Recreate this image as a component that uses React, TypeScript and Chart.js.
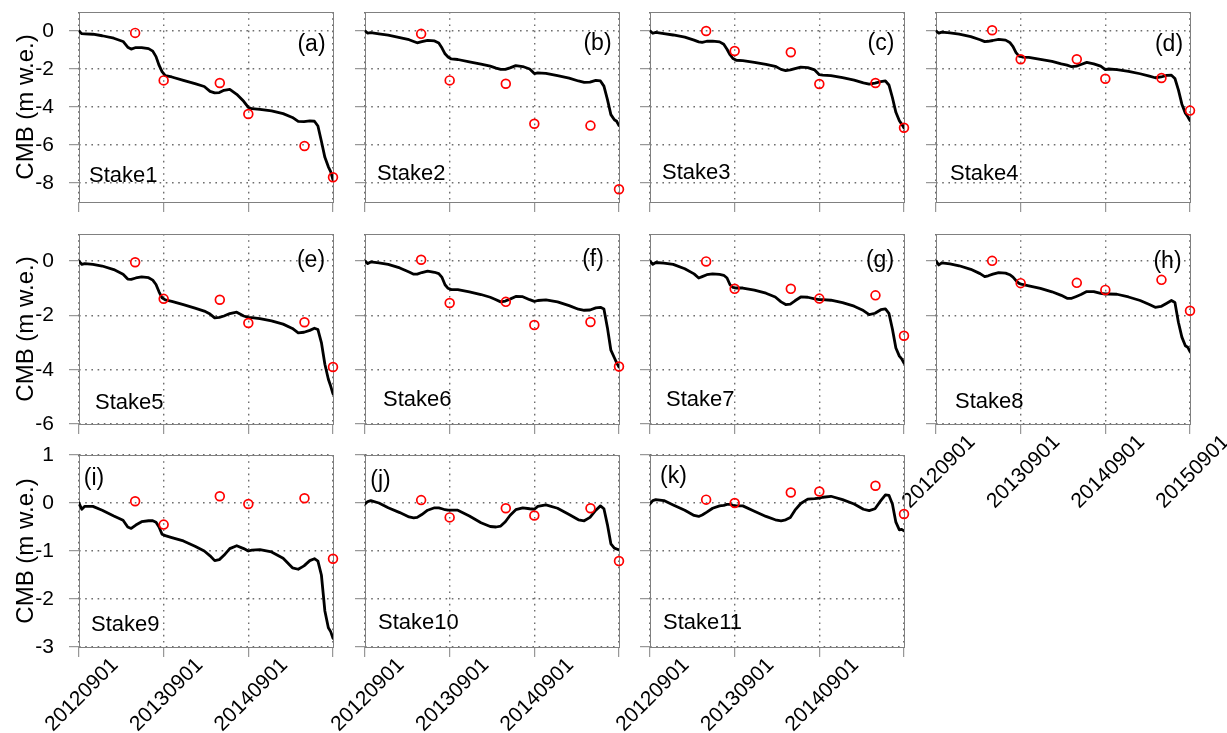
import { useEffect, useRef } from "react";
import { Chart, registerables } from "chart.js";

Chart.register(...registerables);

// Day offsets from 2012-09-01 and their date labels
const xTickDays = [0, 365, 730, 1095];
const xTickLabels = ["20120901", "20130901", "20140901", "20150901"];

// Modelled cumulative mass balance, sampled on these days
const sampleDays = [
  0, 12, 25, 60, 100, 150, 190, 210, 225, 245, 270, 300, 318, 332, 345, 358, 372, 400, 450, 500,
  540, 565, 585, 605, 625, 650, 680, 710, 730, 745, 780, 830, 880, 920, 945, 970, 995, 1015, 1030,
  1045, 1060, 1075, 1085, 1095,
];

// Stake survey days
const obsDays = [242, 365, 607, 730, 972, 1095];

const stake1Model = [
  0, -0.14, -0.15, -0.17, -0.25, -0.38, -0.55, -0.85, -0.95, -0.87, -0.87, -0.93, -1.06, -1.35, -1.8,
  -2.14, -2.35, -2.42, -2.6, -2.77, -2.92, -3.18, -3.26, -3.24, -3.12, -3.07, -3.33, -3.7, -4.02, -4.09,
  -4.12, -4.2, -4.35, -4.55, -4.76, -4.77, -4.73, -4.75, -5.0, -5.8, -6.65, -7.15, -7.4, -7.84,
];
const stake1Obs = [-0.1, -2.6, -2.74, -4.37, -6.05, -7.7];

const stake2Model = [
  0, -0.11, -0.09, -0.15, -0.22, -0.35, -0.46, -0.55, -0.62, -0.56, -0.49, -0.52, -0.63, -0.9, -1.2,
  -1.37, -1.47, -1.5, -1.62, -1.74, -1.85, -1.95, -2.02, -2.02, -1.94, -1.82, -1.87, -2.0, -2.24, -2.2,
  -2.23, -2.35, -2.48, -2.63, -2.7, -2.69, -2.6, -2.63, -2.9, -3.6, -4.4, -4.67, -4.75, -4.98,
];
const stake2Obs = [-0.15, -2.6, -2.78, -4.88, -4.98, -8.33];

const stake3Model = [
  0, -0.12, -0.07, -0.14, -0.21, -0.32, -0.48, -0.57, -0.6, -0.54, -0.53, -0.57, -0.7, -0.96, -1.25,
  -1.45, -1.54, -1.56, -1.65, -1.76, -1.86, -2.02, -2.08, -2.05, -1.98, -1.9, -1.93, -2.05, -2.3, -2.32,
  -2.35, -2.46, -2.59, -2.73, -2.79, -2.74, -2.67, -2.63, -2.84, -3.5, -4.28, -4.72, -4.9, -5.1,
];
const stake3Obs = [0.0, -1.05, -1.12, -2.79, -2.74, -5.09];

const stake4Model = [
  0, -0.11, -0.06, -0.1, -0.17, -0.3, -0.46, -0.56, -0.54, -0.5, -0.44, -0.48, -0.6, -0.82, -1.14,
  -1.32, -1.37, -1.39, -1.49, -1.6, -1.73, -1.8, -1.88, -1.85, -1.76, -1.65, -1.73, -1.85, -2.03, -2.0,
  -2.03, -2.12, -2.25, -2.38, -2.46, -2.42, -2.34, -2.33, -2.5, -3.1, -3.85, -4.33, -4.5, -4.72,
];
const stake4Obs = [0.04, -1.49, -1.49, -2.51, -2.47, -4.19];

const stake5Model = [
  0, -0.12, -0.09, -0.12, -0.18, -0.31, -0.48, -0.66, -0.67, -0.62, -0.58, -0.61, -0.7, -0.86, -1.13,
  -1.35, -1.43, -1.48, -1.6, -1.73, -1.84, -1.95, -2.09, -2.07, -2.02, -1.93, -1.88, -2.02, -2.07, -2.08,
  -2.12, -2.2, -2.32, -2.48, -2.64, -2.62, -2.55, -2.47, -2.52, -3.0, -3.8, -4.35, -4.6, -4.89,
];
const stake5Obs = [-0.04, -1.39, -1.42, -2.28, -2.25, -3.9];

const stake6Model = [
  0, -0.09, -0.03, -0.06, -0.12, -0.25, -0.4, -0.48, -0.48, -0.42, -0.37, -0.41, -0.46, -0.6, -0.87,
  -1.0, -1.05, -1.05, -1.13, -1.23, -1.33, -1.42, -1.5, -1.47, -1.4, -1.3, -1.31, -1.42, -1.48, -1.45,
  -1.43, -1.5, -1.64, -1.77, -1.81, -1.8, -1.72, -1.7, -1.76, -2.45, -3.28, -3.56, -3.75, -3.9,
];
const stake6Obs = [0.05, -1.54, -1.5, -2.35, -2.24, -3.88];

const stake7Model = [
  0, -0.12, -0.05, -0.07, -0.12, -0.28, -0.47, -0.62, -0.57, -0.5, -0.47, -0.49, -0.52, -0.62, -0.87,
  -0.97, -0.99, -0.99, -1.07, -1.18, -1.32, -1.5, -1.6, -1.58, -1.46, -1.32, -1.33, -1.39, -1.42, -1.42,
  -1.44, -1.53, -1.66, -1.82, -1.97, -1.92, -1.79, -1.76, -1.92, -2.5, -3.2, -3.5, -3.6, -3.76,
];
const stake7Obs = [-0.01, -1.02, -1.02, -1.38, -1.26, -2.75];

const stake8Model = [
  0, -0.14, -0.06, -0.1, -0.17, -0.3, -0.46, -0.57, -0.54, -0.48, -0.42, -0.44, -0.5, -0.59, -0.72,
  -0.82, -0.86, -0.91, -1.0, -1.13, -1.26, -1.37, -1.37, -1.3, -1.23, -1.12, -1.12, -1.19, -1.21, -1.21,
  -1.22, -1.32, -1.45, -1.6, -1.7, -1.67, -1.55, -1.45, -1.52, -2.25, -2.8, -3.12, -3.17, -3.33,
];
const stake8Obs = [0.01, -0.81, -0.8, -1.06, -0.69, -1.83];

const stake9Model = [
  0, -0.13, -0.07, -0.07, -0.15, -0.27, -0.36, -0.5, -0.53, -0.46, -0.39, -0.37, -0.37, -0.4, -0.5,
  -0.65, -0.68, -0.72, -0.79, -0.9, -1.0, -1.1, -1.2, -1.18, -1.09, -0.95, -0.89, -0.95, -1.0, -0.98,
  -0.97, -1.02, -1.15, -1.35, -1.38, -1.31, -1.2, -1.16, -1.21, -1.5, -2.25, -2.6, -2.68, -2.82,
];
const stake9Obs = [0.035, -0.45, 0.14, -0.02, 0.1, -1.16];

const stake10Model = [
  -0.02, 0.03, 0.05, 0.0, -0.1, -0.2, -0.29, -0.31, -0.3, -0.24, -0.15, -0.1, -0.1, -0.12, -0.14,
  -0.15, -0.15, -0.15, -0.27, -0.41, -0.49, -0.5, -0.48, -0.39, -0.26, -0.14, -0.1, -0.12, -0.13, -0.07,
  -0.04, -0.11, -0.24, -0.35, -0.37, -0.3, -0.15, -0.06, -0.12, -0.45, -0.85, -0.94, -0.96, -0.98,
];
const stake10Obs = [0.06, -0.3, -0.11, -0.26, -0.11, -1.21];

const stake11Model = [
  -0.02, 0.05, 0.07, 0.05, -0.04, -0.15, -0.26, -0.28, -0.25, -0.19, -0.11, -0.06, -0.05, -0.03, -0.03,
  -0.05, -0.06, -0.06, -0.17, -0.28, -0.35, -0.37, -0.35, -0.3, -0.15, -0.01, 0.08, 0.09, 0.1, 0.12,
  0.14, 0.07, -0.02, -0.13, -0.16, -0.12, 0.05, 0.17, 0.16, -0.02, -0.4, -0.56, -0.55, -0.58,
];
const stake11Obs = [0.07, 0.0, 0.22, 0.24, 0.36, -0.23];

// Y tick values per panel row
const row1Ticks = [0, -2, -4, -6, -8];
const row2Ticks = [0, -2, -4, -6];
const row3Ticks = [1, 0, -1, -2, -3];

const yTitle = "CMB (m w.e.)";

const FONT = '"Liberation Sans", Arial, Helvetica, sans-serif';

// Page layout of the plot frames
const COL_LEFT = [79, 365, 650, 936];
const PLOT_W = 254;
const ROWS = [
  { top: 12, height: 190, min: -9, max: 1, ticks: row1Ticks },
  { top: 234, height: 190, min: -6, max: 1, ticks: row2Ticks },
  { top: 455, height: 192, min: -3, max: 1, ticks: row3Ticks },
];

type PanelDef = {
  name: string;
  tag: string;
  model: number[];
  obs: number[];
  row: number;
  col: number;
  xLabelCount: number; // how many date labels are written under the panel
  tagX: number; // centre of the tag, from the frame's left edge
  tagY: number; // centre of the tag, from the frame's top edge
  nameX: number; // left of the stake name, from the frame's left edge
  nameY: number; // centre of the stake name, above the frame's bottom edge
};

const panels: PanelDef[] = [
  { name: "Stake1", tag: "(a)", model: stake1Model, obs: stake1Obs, row: 0, col: 0, xLabelCount: 0, tagX: 232.5, tagY: 33, nameX: 10, nameY: 26 },
  { name: "Stake2", tag: "(b)", model: stake2Model, obs: stake2Obs, row: 0, col: 1, xLabelCount: 0, tagX: 232.5, tagY: 32, nameX: 12, nameY: 28.5 },
  { name: "Stake3", tag: "(c)", model: stake3Model, obs: stake3Obs, row: 0, col: 2, xLabelCount: 0, tagX: 231, tagY: 32, nameX: 12, nameY: 29 },
  { name: "Stake4", tag: "(d)", model: stake4Model, obs: stake4Obs, row: 0, col: 3, xLabelCount: 0, tagX: 233, tagY: 33, nameX: 14, nameY: 28 },
  { name: "Stake5", tag: "(e)", model: stake5Model, obs: stake5Obs, row: 1, col: 0, xLabelCount: 0, tagX: 232, tagY: 27, nameX: 16, nameY: 21 },
  { name: "Stake6", tag: "(f)", model: stake6Model, obs: stake6Obs, row: 1, col: 1, xLabelCount: 0, tagX: 228, tagY: 26, nameX: 18, nameY: 24 },
  { name: "Stake7", tag: "(g)", model: stake7Model, obs: stake7Obs, row: 1, col: 2, xLabelCount: 0, tagX: 230, tagY: 27, nameX: 16, nameY: 24 },
  { name: "Stake8", tag: "(h)", model: stake8Model, obs: stake8Obs, row: 1, col: 3, xLabelCount: 4, tagX: 231.5, tagY: 28, nameX: 19, nameY: 22 },
  { name: "Stake9", tag: "(i)", model: stake9Model, obs: stake9Obs, row: 2, col: 0, xLabelCount: 3, tagX: 15, tagY: 24, nameX: 12, nameY: 22 },
  { name: "Stake10", tag: "(j)", model: stake10Model, obs: stake10Obs, row: 2, col: 1, xLabelCount: 3, tagX: 15.5, tagY: 26, nameX: 13, nameY: 24 },
  { name: "Stake11", tag: "(k)", model: stake11Model, obs: stake11Obs, row: 2, col: 2, xLabelCount: 3, tagX: 23.5, tagY: 22, nameX: 13, nameY: 24 },
];

// Grey box around each plot area
const framePlugin = {
  id: "frame",
  beforeDatasetsDraw(chart: any) {
    const { ctx, chartArea: a } = chart;
    ctx.save();
    ctx.strokeStyle = "#808080";
    ctx.lineWidth = 1;
    ctx.strokeRect(Math.round(a.left) + 0.5, Math.round(a.top) + 0.5, Math.round(a.width), Math.round(a.height));
    ctx.restore();
  },
};

function Panel({ p }: { p: PanelDef }) {
  const ref = useRef<HTMLCanvasElement>(null);
  const row = ROWS[p.row];
  const showY = p.col === 0;
  const showX = p.xLabelCount > 0;
  const padL = showY ? COL_LEFT[0] : 60;
  const padT = 14;
  const padR = 50;
  const padB = showX ? 100 : 16;
  const left = COL_LEFT[p.col] - padL;
  const top = row.top - padT;
  const width = padL + PLOT_W + padR;
  const height = padT + row.height + padB;

  useEffect(() => {
    const canvas = ref.current;
    if (!canvas) return;

    const labelPlugin = {
      id: "panelLabels",
      afterDatasetsDraw(chart: any) {
        const { ctx, chartArea: a } = chart;
        ctx.save();
        ctx.fillStyle = "#000";
        ctx.textBaseline = "middle";
        ctx.font = `22px ${FONT}`;
        ctx.textAlign = "left";
        ctx.fillText(p.name, a.left + p.nameX, a.bottom - p.nameY);
        ctx.font = `23px ${FONT}`;
        ctx.textAlign = "center";
        ctx.fillText(p.tag, a.left + p.tagX, a.top + p.tagY);
        ctx.restore();
      },
    };

    const gridOpts = {
      color: "#6e6e6e",
      lineWidth: 1.4,
      drawTicks: true,
      tickLength: 10,
      tickColor: "#808080",
      tickWidth: 1,
    };
    const borderOpts = { display: false, dash: [1.6, 4.6] };

    const chart = new Chart(canvas, {
      type: "line",
      data: {
        datasets: [
          {
            label: "Observed",
            data: obsDays.map((d, i) => ({ x: d, y: p.obs[i] })),
            showLine: false,
            pointStyle: "circle",
            pointRadius: 4.4,
            pointBorderWidth: 1.7,
            pointBorderColor: "#ff0000",
            pointBackgroundColor: "rgba(0,0,0,0)",
            borderColor: "#ff0000",
            backgroundColor: "rgba(0,0,0,0)",
            clip: false,
          },
          {
            label: "Modelled",
            data: sampleDays.map((d, i) => ({ x: d, y: p.model[i] })),
            borderColor: "#000",
            borderWidth: 2.8,
            pointRadius: 0,
            tension: 0,
            fill: false,
            borderJoinStyle: "round",
            borderCapStyle: "round",
          },
        ],
      } as any,
      options: {
        responsive: false,
        animation: false,
        events: [],
        layout: { padding: { left: 0, top: padT, right: padR, bottom: 0 } },
        plugins: {
          legend: { display: false },
          tooltip: { enabled: false },
        },
        scales: {
          x: {
            type: "linear",
            min: 0,
            max: 1095,
            afterBuildTicks: (s: any) => {
              s.ticks = xTickDays.map((v) => ({ value: v }));
            },
            afterFit: (s: any) => {
              s.height = padB;
              s.paddingLeft = 0;
              s.paddingRight = 0;
              s.paddingTop = 0;
              s.paddingBottom = 0;
            },
            grid: gridOpts,
            border: borderOpts,
            ticks: {
              display: showX,
              autoSkip: false,
              minRotation: 45,
              maxRotation: 45,
              labelOffset: 36,
              padding: -4,
              color: "#000",
              font: { family: FONT, size: 21 },
              callback: (v: any) => {
                const i = xTickDays.indexOf(Number(v));
                return i >= 0 && i < p.xLabelCount ? xTickLabels[i] : "";
              },
            },
          },
          y: {
            type: "linear",
            min: row.min,
            max: row.max,
            afterBuildTicks: (s: any) => {
              s.ticks = row.ticks.map((v) => ({ value: v }));
            },
            afterFit: (s: any) => {
              s.width = padL;
              s.paddingTop = 0;
              s.paddingBottom = 0;
              s.paddingLeft = 0;
              s.paddingRight = 0;
            },
            grid: gridOpts,
            border: borderOpts,
            ticks: {
              display: showY,
              autoSkip: false,
              padding: 15,
              color: "#000",
              font: { family: FONT, size: 21 },
              callback: (v: any) => String(v),
            },
            title: {
              display: showY,
              text: yTitle,
              color: "#000",
              font: { family: FONT, size: 24 },
              padding: { top: 12, bottom: 0 },
            },
          },
        },
      } as any,
      plugins: [framePlugin, labelPlugin],
    });
    return () => chart.destroy();
  }, []);

  return (
    <canvas
      ref={ref}
      width={width}
      height={height}
      style={{ position: "absolute", left, top, width, height }}
    />
  );
}

export default function App() {
  return (
    <div
      style={{
        position: "absolute",
        left: 0,
        top: 0,
        width: 1227,
        height: 733,
        background: "#fff",
        overflow: "hidden",
      }}
    >
      {panels.map((p) => (
        <Panel key={p.name} p={p} />
      ))}
    </div>
  );
}
